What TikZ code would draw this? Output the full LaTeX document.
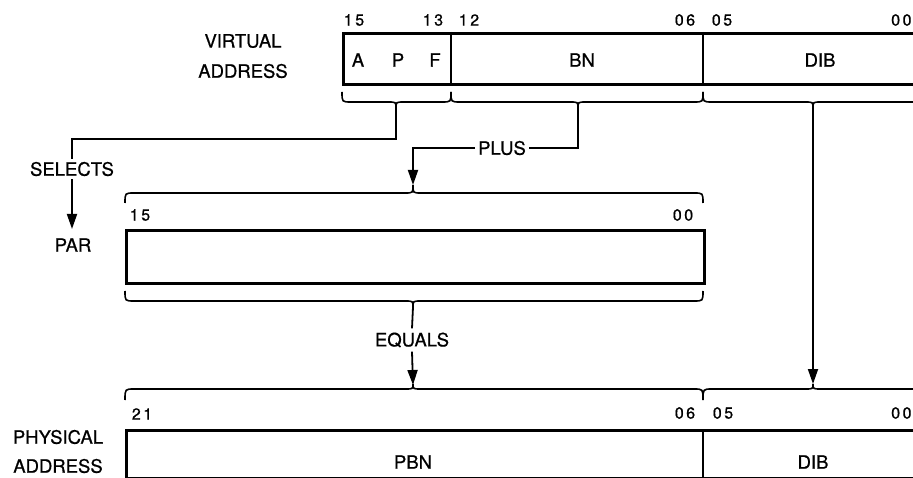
\documentclass[tikz,border=0pt]{standalone}
\usepackage{fontspec}
\setmainfont{TeX Gyre Heros}[FakeBold=0.7]
\usetikzlibrary{arrows.meta}
\newcommand\brc[6]{% x1, x2, tip x, y horizontal, end offset, tip offset
  \draw[brace] (#1,#4+#5) .. controls (#1,#4) .. (#1+9,#4) -- (#3-8,#4)
    .. controls (#3,#4) .. (#3,#4+#6) .. controls (#3,#4) .. (#3+8,#4)
    -- (#2-9,#4) .. controls (#2,#4) .. (#2,#4+#5);}
\newcommand\dg[2]{#1\kern2.5pt#2}
\begin{document}
\begin{tikzpicture}[x=1pt,y=-1pt,
  lbl/.style={font=\fontsize{18.5}{19}\selectfont, inner sep=0pt},
  num/.style={font=\fontsize{16}{16}\selectfont, inner sep=0pt},
  reg/.style={draw, line width=2.8pt, inner sep=0pt, anchor=north west},
  sep/.style={line width=1.9pt},
  brace/.style={line width=1.6pt},
  conn/.style={line width=1.8pt},
  arr/.style={conn, -{Triangle[length=15pt,width=10pt]}}]
\useasboundingbox (0,0) rectangle (913,478);
\clip (0,0) rectangle (913,478);

% ---- virtual address ----
\node[reg, minimum width=600pt, minimum height=51pt] (va) at (342,32) {};
\draw[sep] (451,32) -- (451,83);
\draw[sep] (703,32) -- (703,83);
\node[lbl] (vl1) at (243,41) {VIRTUAL};
\node[lbl] (vl2) at (243,71) {ADDRESS};
\node[lbl] (fa) at (358,60) {A};
\node[lbl] (fp) at (398,60) {P};
\node[lbl] (ff) at (435,60) {F};
\node[lbl] (fbn) at (582,60) {BN};
\node[lbl] (fdib) at (820,60) {DIB};
\node[num] (v15) at (354,20) {\dg15};
\node[num] (v13) at (433,20) {\dg13};
\node[num] (v12) at (469,20) {\dg12};
\node[num] (v06) at (685,20) {\dg06};
\node[num] (v05) at (722,20) {\dg05};
\node[num, anchor=west] (v00) at (891,20) {\dg00};

\brc{342}{451}{396}{102}{-10}{6}
\brc{451}{703}{578}{102}{-10}{6}
\brc{703}{940}{813}{102}{-10}{6}
\coordinate (b1) at (396,108);
\coordinate (b2) at (578,108);
\coordinate (b3) at (813,108);

% ---- PAR ----
\node[reg, minimum width=578pt, minimum height=53pt] (par) at (125,229) {};
\node[num] (p15) at (140,215) {\dg15};
\node[num] (p00) at (683,215) {\dg00};
\brc{125}{703}{413}{193}{10}{-8}
\brc{125}{703}{413}{301}{-10}{6}
\coordinate (pt) at (413,185);
\coordinate (pb) at (413,307);

\node[lbl] (sel) at (72,169) {SELECTS};
\node[lbl] (parl) at (73,245) {PAR};
\coordinate (c1) at (72,139);
\coordinate (c2) at (72,229);
\draw[conn] (b1) |- (c1) -- ([yshift=3pt]sel.north);
\draw[arr] ([yshift=-3pt]sel.south) -- (c2);

\node[lbl] (plus) at (502,148) {PLUS};
\draw[conn] (b2) |- ([xshift=3pt]plus.east);
\draw[arr] ([xshift=-3pt]plus.west) -| (pt);

\node[lbl] (eq) at (412,340) {EQUALS};
\draw[conn] (pb) -- ([yshift=4pt]eq.north);
\coordinate (pt2) at (413,385);
\draw[arr] ([yshift=-4pt]eq.south) -- (pt2);

% ---- physical address ----
\node[reg, minimum width=820pt, minimum height=48pt] (pa) at (125,429) {};
\draw[sep] (703,429) -- (703,477);
\node[lbl] (pl1) at (58,437) {PHYSICAL};
\node[lbl] (pl2) at (58,466) {ADDRESS};
\node[lbl] (fpbn) at (413,462) {PBN};
\node[lbl] (fdib2) at (813,462) {DIB};
\node[num] (q21) at (142,414) {\dg21};
\node[num] (q06) at (685,413) {\dg06};
\node[num] (q05) at (723,413) {\dg05};
\node[num, anchor=west] (q00) at (891,413) {\dg00};
\brc{125}{703}{413}{389}{11}{-5}
\brc{703}{940}{813}{389}{11}{-5}
\coordinate (dt) at (813,384);
\draw[arr] (b3) -- (dt);
\end{tikzpicture}
\end{document}
